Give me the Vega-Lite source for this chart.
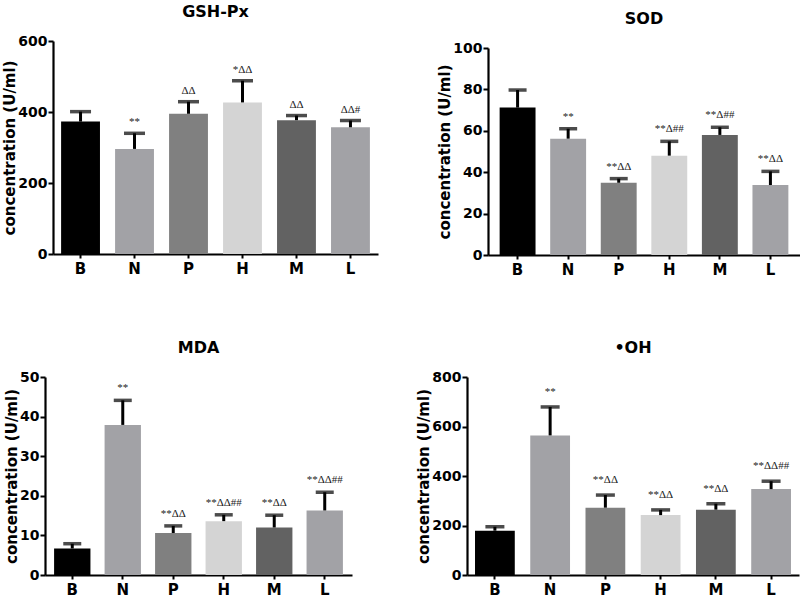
{
  "$schema": "https://vega.github.io/schema/vega-lite/v6.json",
  "padding": {"left": 2, "top": 4, "right": 0, "bottom": 0},
  "background": "white",
  "datasets": {
    "gsh": [
      {"group": "B", "mean": 373, "upper": 401, "note": ""},
      {"group": "N", "mean": 296, "upper": 340, "note": "**"},
      {"group": "P", "mean": 395, "upper": 429, "note": "ΔΔ"},
      {"group": "H", "mean": 427, "upper": 488, "note": "*ΔΔ"},
      {"group": "M", "mean": 377, "upper": 390, "note": "ΔΔ"},
      {"group": "L", "mean": 357, "upper": 376, "note": "ΔΔ#"}
    ],
    "sod": [
      {"group": "B", "mean": 71.2, "upper": 79.7, "note": ""},
      {"group": "N", "mean": 56.2, "upper": 61, "note": "**"},
      {"group": "P", "mean": 34.9, "upper": 36.9, "note": "**ΔΔ"},
      {"group": "H", "mean": 48, "upper": 54.9, "note": "**Δ##"},
      {"group": "M", "mean": 58, "upper": 61.7, "note": "**Δ##"},
      {"group": "L", "mean": 33.8, "upper": 40.4, "note": "**ΔΔ"}
    ],
    "mda": [
      {"group": "B", "mean": 6.7, "upper": 7.9, "note": ""},
      {"group": "N", "mean": 37.9, "upper": 44.1, "note": "**"},
      {"group": "P", "mean": 10.6, "upper": 12.4, "note": "**ΔΔ"},
      {"group": "H", "mean": 13.6, "upper": 15.2, "note": "**ΔΔ##"},
      {"group": "M", "mean": 12, "upper": 15.1, "note": "**ΔΔ"},
      {"group": "L", "mean": 16.3, "upper": 20.9, "note": "**ΔΔ##"}
    ],
    "oh": [
      {"group": "B", "mean": 179, "upper": 195, "note": ""},
      {"group": "N", "mean": 564, "upper": 679, "note": "**"},
      {"group": "P", "mean": 272, "upper": 323, "note": "**ΔΔ"},
      {"group": "H", "mean": 242, "upper": 263, "note": "**ΔΔ"},
      {"group": "M", "mean": 264, "upper": 288, "note": "**ΔΔ"},
      {"group": "L", "mean": 347, "upper": 379, "note": "**ΔΔ##"}
    ]
  },
  "vconcat": [
    {
      "concat": [
        {
          "width": 325, "height": 213,
          "title": "GSH-Px",
          "data": {"name": "gsh"},
          "encoding": {
            "x": {"field": "group", "type": "nominal", "sort": null, "scale": {"paddingInner": 0.28, "paddingOuter": 0.15}, "title": null},
            "y": {"field": "mean", "type": "quantitative", "scale": {"domain": [0, 600]}, "axis": {"values": [0, 200, 400, 600]}, "title": "concentration (U/ml)"}
          },
          "layer": [
            {"mark": {"type": "bar"}, "encoding": {"color": {"field": "group", "type": "nominal", "scale": {"domain": ["B", "N", "P", "H", "M", "L"], "range": ["#000000", "#a2a2a6", "#808080", "#d4d4d4", "#626262", "#a2a2a6"]}, "legend": null}}},
            {"mark": {"type": "rule", "strokeWidth": 3, "color": "black"}, "encoding": {"y2": {"field": "upper"}}},
            {"mark": {"type": "tick", "size": 21, "thickness": 3.5, "color": "black"}, "encoding": {"y": {"field": "upper", "type": "quantitative", "title": "concentration (U/ml)"}}},
            {"mark": {"type": "text", "font": "Liberation Serif", "fontSize": 11, "dy": -8, "baseline": "alphabetic", "color": "#222222"}, "encoding": {"y": {"field": "upper", "type": "quantitative", "title": "concentration (U/ml)"}, "text": {"field": "note"}}}
          ]
        },
        {
          "width": 312, "height": 214,
          "title": "SOD",
          "data": {"name": "sod"},
          "encoding": {
            "x": {"field": "group", "type": "nominal", "sort": null, "scale": {"paddingInner": 0.29, "paddingOuter": 0.23}, "title": null},
            "y": {"field": "mean", "type": "quantitative", "scale": {"domain": [0, 100], "range": [214, 7]}, "axis": {"values": [0, 20, 40, 60, 80, 100]}, "title": "concentration (U/ml)"}
          },
          "layer": [
            {"mark": {"type": "bar"}, "encoding": {"color": {"field": "group", "type": "nominal", "scale": {"domain": ["B", "N", "P", "H", "M", "L"], "range": ["#000000", "#a2a2a6", "#808080", "#d4d4d4", "#626262", "#a2a2a6"]}, "legend": null}}},
            {"mark": {"type": "rule", "strokeWidth": 3, "color": "black"}, "encoding": {"y2": {"field": "upper"}}},
            {"mark": {"type": "tick", "size": 18, "thickness": 3.5, "color": "black"}, "encoding": {"y": {"field": "upper", "type": "quantitative", "title": "concentration (U/ml)"}}},
            {"mark": {"type": "text", "font": "Liberation Serif", "fontSize": 11, "dy": -9, "baseline": "alphabetic", "color": "#222222"}, "encoding": {"y": {"field": "upper", "type": "quantitative", "title": "concentration (U/ml)"}, "text": {"field": "note"}}}
          ]
        }
      ],
      "columns": 2,
      "spacing": 59,
      "align": "none",
      "resolve": {"scale": {"x": "independent", "y": "independent", "color": "independent"}}
    },
    {
      "concat": [
        {
          "width": 299, "height": 198,
          "title": {"text": "MDA", "dx": -4},
          "data": {"name": "mda"},
          "encoding": {
            "x": {"field": "group", "type": "nominal", "sort": null, "scale": {"paddingInner": 0.28, "paddingOuter": 0.18, "range": [-8, 299]}, "title": null},
            "y": {"field": "mean", "type": "quantitative", "scale": {"domain": [0, 50]}, "axis": {"values": [0, 10, 20, 30, 40, 50], "offset": 8}, "title": "concentration (U/ml)"}
          },
          "layer": [
            {"mark": {"type": "bar"}, "encoding": {"color": {"field": "group", "type": "nominal", "scale": {"domain": ["B", "N", "P", "H", "M", "L"], "range": ["#000000", "#a2a2a6", "#808080", "#d4d4d4", "#626262", "#a2a2a6"]}, "legend": null}}},
            {"mark": {"type": "rule", "strokeWidth": 3, "color": "black"}, "encoding": {"y2": {"field": "upper"}}},
            {"mark": {"type": "tick", "size": 18, "thickness": 3.5, "color": "black"}, "encoding": {"y": {"field": "upper", "type": "quantitative", "title": "concentration (U/ml)"}}},
            {"mark": {"type": "text", "font": "Liberation Serif", "fontSize": 11, "dy": -9, "baseline": "alphabetic", "color": "#222222"}, "encoding": {"y": {"field": "upper", "type": "quantitative", "title": "concentration (U/ml)"}, "text": {"field": "note"}}}
          ]
        },
        {
          "width": 332, "height": 198,
          "title": "•OH",
          "data": {"name": "oh"},
          "encoding": {
            "x": {"field": "group", "type": "nominal", "sort": null, "scale": {"paddingInner": 0.28, "paddingOuter": 0.145}, "title": null},
            "y": {"field": "mean", "type": "quantitative", "scale": {"domain": [0, 800]}, "axis": {"values": [0, 200, 400, 600, 800]}, "title": "concentration (U/ml)"}
          },
          "layer": [
            {"mark": {"type": "bar"}, "encoding": {"color": {"field": "group", "type": "nominal", "scale": {"domain": ["B", "N", "P", "H", "M", "L"], "range": ["#000000", "#a2a2a6", "#808080", "#d4d4d4", "#626262", "#a2a2a6"]}, "legend": null}}},
            {"mark": {"type": "rule", "strokeWidth": 3, "color": "black"}, "encoding": {"y2": {"field": "upper"}}},
            {"mark": {"type": "tick", "size": 19, "thickness": 3.5, "color": "black"}, "encoding": {"y": {"field": "upper", "type": "quantitative", "title": "concentration (U/ml)"}}},
            {"mark": {"type": "text", "font": "Liberation Serif", "fontSize": 11, "dy": -12, "baseline": "alphabetic", "color": "#222222"}, "encoding": {"y": {"field": "upper", "type": "quantitative", "title": "concentration (U/ml)"}, "text": {"field": "note"}}}
          ]
        }
      ],
      "columns": 2,
      "spacing": 56,
      "align": "none",
      "resolve": {"scale": {"x": "independent", "y": "independent", "color": "independent"}}
    }
  ],
  "spacing": 63,
  "resolve": {"scale": {"x": "independent", "y": "independent", "color": "independent"}},
  "config": {
    "view": {"stroke": null},
    "title": {"font": "DejaVu Sans", "fontSize": 16, "fontWeight": "bold", "color": "black", "offset": 14, "anchor": "middle"},
    "axis": {
      "grid": false,
      "domainColor": "black",
      "domainWidth": 2.2,
      "tickColor": "black",
      "tickWidth": 2,
      "labelFont": "DejaVu Sans",
      "labelFontWeight": "bold",
      "labelColor": "black",
      "titleFont": "DejaVu Sans",
      "titleFontWeight": "bold",
      "titleFontSize": 15,
      "titleColor": "black"
    },
    "axisX": {"labelAngle": 0, "tickSize": 4, "labelFontSize": 15, "labelPadding": 3},
    "axisY": {"tickSize": 5, "labelPadding": 1, "titlePadding": 0, "labelFontSize": 14}
  }
}
